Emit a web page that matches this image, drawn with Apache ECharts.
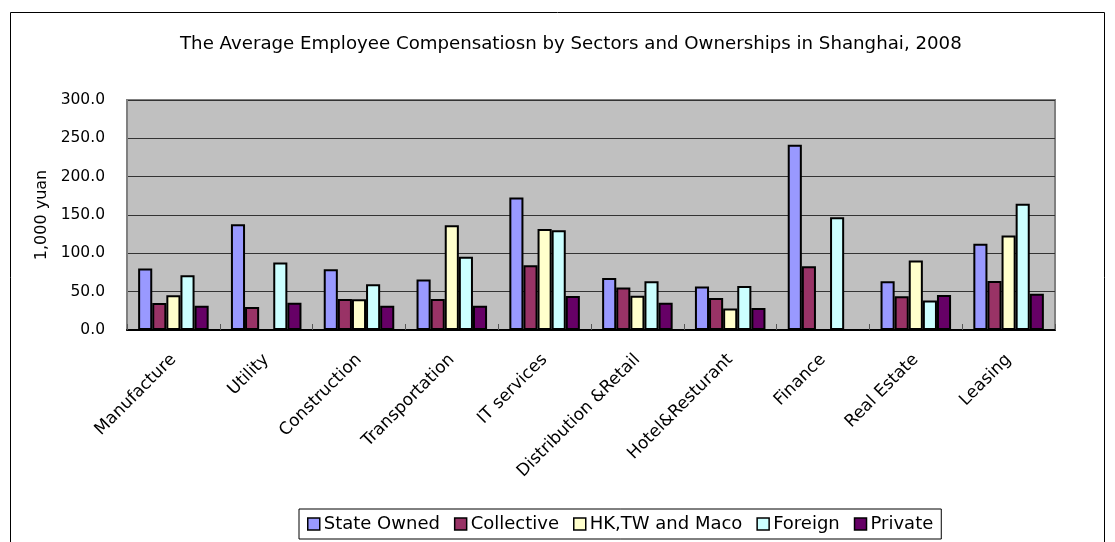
<!DOCTYPE html>
<html>
<head>
<meta charset="utf-8">
<script src="https://cdn.jsdelivr.net/npm/echarts@6/dist/echarts.min.js"></script>
<style>
html,body{margin:0;padding:0;background:#fff;}
#chart{width:1115px;height:542px;}
</style>
</head>
<body>
<div id="chart"></div>
<script>
const titleText = 'The Average Employee Compensatiosn by Sectors and Ownerships in Shanghai, 2008';
const yAxisName = '1,000 yuan';
const categories = ['Manufacture','Utility','Construction','Transportation','IT services','Distribution &Retail','Hotel&Resturant','Finance','Real Estate','Leasing'];
const seriesNames = ['State Owned','Collective','HK,TW and Maco','Foreign','Private'];
const stateOwned = [80.2, 137.8, 79.3, 65.8, 172.7, 67.9, 56.6, 241.7, 63.5, 112.4];
const collective = [35.1, 29.9, 40.4, 40.4, 84.5, 55.3, 41.7, 83.2, 43.9, 63.9];
const hkTwMaco  = [45.2, null, 40.2, 136.5, 131.7, 44.8, 28.2, null, 90.7, 123.4];
const foreign   = [71.4, 88.0, 59.6, 95.4, 130.0, 63.5, 57.4, 147.0, 38.6, 164.8];
const privateO  = [31.7, 35.6, 31.7, 31.7, 44.3, 35.6, 28.6, null, 45.6, 47.4];
const yTicks = {min: 0, max: 300, interval: 50};

const colors = ['#9999FF','#993366','#FFFFCC','#CCFFFF','#660066'];
const dataSets = [stateOwned, collective, hkTwMaco, foreign, privateO];
const FONT = 'DejaVu Sans, sans-serif';

const chart = echarts.init(document.getElementById('chart'), null, {renderer: 'canvas'});
chart.setOption({
  animation: false,
  backgroundColor: '#fff',
  graphic: [{
    type: 'rect', shape: {x: 10.5, y: 12.5, width: 1094, height: 560},
    style: {fill: 'none', stroke: '#000', lineWidth: 1}, silent: true, z: -1
  }],
  title: {
    text: titleText, left: 175, top: 30,
    textStyle: {fontFamily: FONT, fontSize: 18.2, fontWeight: 'normal', color: '#000'}
  },
  legend: {
    data: seriesNames, left: 299, top: 509,
    icon: 'rect', itemWidth: 12, itemHeight: 12, itemGap: 14,
    borderColor: '#000', borderWidth: 1, padding: [6, 8, 6, 8],
    textStyle: {fontFamily: FONT, fontSize: 18, color: '#000', padding: [0,0,0,-1]},
    itemStyle: {borderColor: '#000', borderWidth: 1.5}
  },
  grid: {
    left: 127, right: 60, top: 100, bottom: 212,
    show: true, backgroundColor: '#C0C0C0', borderColor: '#808080', borderWidth: 2
  },
  xAxis: {
    type: 'category', data: categories,
    axisLine: {lineStyle: {color: '#000', width: 2}},
    axisTick: {show: true, inside: true, length: 6, lineStyle: {color: '#555'}},
    axisLabel: {rotate: 45, margin: 27, fontFamily: FONT, fontSize: 17, color: '#000', interval: 0}
  },
  yAxis: {
    type: 'value', min: yTicks.min, max: yTicks.max, interval: yTicks.interval,
    name: yAxisName, nameLocation: 'middle', nameGap: 77, nameRotate: 90,
    nameTextStyle: {fontFamily: FONT, fontSize: 16, color: '#000'},
    axisLine: {show: true, lineStyle: {color: '#808080', width: 1}},
    axisTick: {show: false},
    axisLabel: {formatter: v => v.toFixed(1), margin: 22, fontFamily: FONT, fontSize: 15.5, color: '#000'},
    splitLine: {show: true, lineStyle: {color: '#333', width: 1}}
  },
  series: seriesNames.map((name, i) => ({
    name, type: 'bar', data: dataSets[i],
    barGap: '0%', barCategoryGap: '24%',
    itemStyle: {color: colors[i], borderColor: '#000', borderWidth: 2}
  }))
});
</script>
</body>
</html>
